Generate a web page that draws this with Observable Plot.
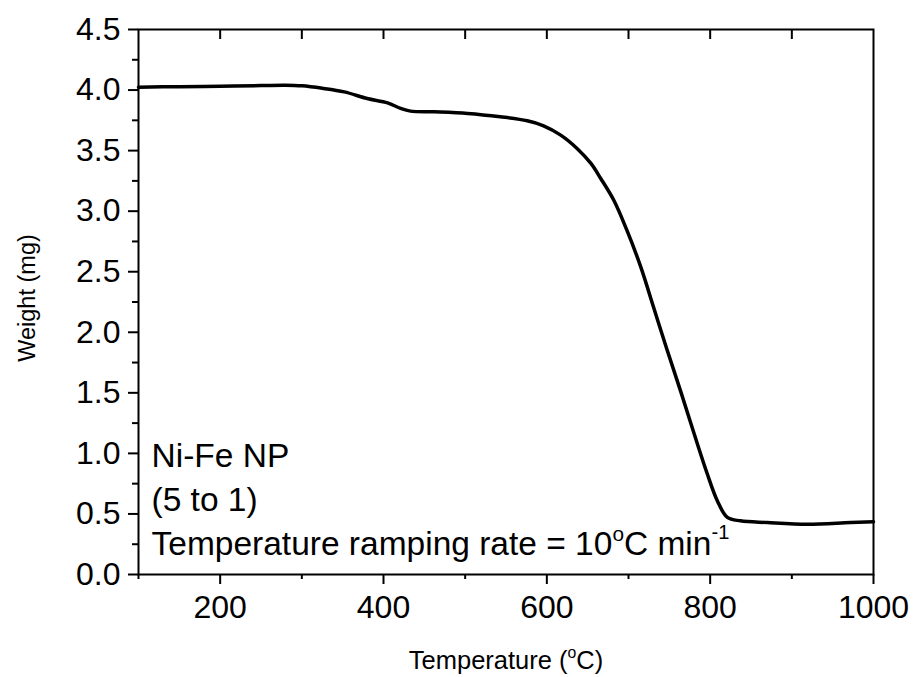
<!DOCTYPE html>
<html><head><meta charset="utf-8">
<script src="https://cdn.jsdelivr.net/npm/d3@7"></script>
<script src="https://cdn.jsdelivr.net/npm/@observablehq/plot@0.6"></script>
<style>html,body{margin:0;padding:0;background:#fff;overflow:hidden} #chart svg{display:block}</style>
</head><body><div id="chart"></div>
<script>
// Data
const temperature = [100,150,200,250,280,300,325,352,380,405,421,433,462,503,543,576,596,617,637,654,666,682,698,715,731,747,764,780,796,809,821,837,870,919,972,1000];
const weight      = [4.024,4.028,4.032,4.037,4.040,4.035,4.015,3.985,3.930,3.894,3.848,3.826,3.820,3.807,3.779,3.746,3.705,3.628,3.518,3.394,3.270,3.090,2.843,2.540,2.200,1.860,1.510,1.170,0.840,0.605,0.472,0.443,0.429,0.415,0.429,0.435];

const xMajorTicks = [200, 400, 600, 800, 1000];
const xMinorTicks = [100, 300, 500, 700, 900];
const xTopTicks   = [200, 300, 400, 500, 600, 700, 800, 900];
const yMajorTicks = [0, 0.5, 1, 1.5, 2, 2.5, 3, 3.5, 4, 4.5];
const yMinorTicks = [0.25, 0.75, 1.25, 1.75, 2.25, 2.75, 3.25, 3.75, 4.25];
const xLabel = "Temperature (°C)";
const yLabel = "Weight (mg)";
const annotationLines = ["Ni-Fe NP", "(5 to 1)", "Temperature ramping rate = 10°C min⁻¹"];

const data = temperature.map((t, i) => ({t, w: weight[i]}));
const blank = () => "";
const W = 914, H = 677, mT = 29, mB = 103;
const yDomain = [0, 4.5];
const innerTickPx = 10;
const yTop = yDomain[1];
const yTickEnd = yTop - innerTickPx * (yDomain[1] - yDomain[0]) / (H - mT - mB);

const chart = Plot.plot({
  width: W, height: H,
  marginLeft: 138, marginRight: 41, marginTop: mT, marginBottom: mB,
  style: {fontFamily: "'Liberation Sans', Arial, sans-serif", fontSize: "32px", color: "#000", background: "#fff"},
  x: {domain: [100, 1000]},
  y: {domain: yDomain},
  marks: [
    Plot.frame({stroke: "#000", fill: "none", strokeWidth: 2}),
    Plot.ruleX(xTopTicks, {x: d => d, y1: yTop, y2: yTickEnd, stroke: "#000", strokeWidth: 2}),
    Plot.axisX({ticks: xMajorTicks, tickSize: 10, tickPadding: 11, tickFormat: d3.format("d"), strokeWidth: 2, label: null, fontSize: 32}),
    Plot.axisX({ticks: xMinorTicks, tickSize: 5, tickFormat: blank, strokeWidth: 2, label: null}),
    Plot.axisY({ticks: yMajorTicks, tickSize: 10, tickPadding: 8, tickFormat: d3.format(".1f"), strokeWidth: 2, label: null, fontSize: 32}),
    Plot.axisY({ticks: yMinorTicks, tickSize: 6, tickFormat: blank, strokeWidth: 2, label: null}),
    Plot.line(data, {x: "t", y: "w", stroke: "#000", strokeWidth: 3.5, curve: "catmull-rom"}),
    Plot.text([annotationLines.join("\n")], {text: d => d, frameAnchor: "bottom-left", textAnchor: "start", lineAnchor: "bottom", lineHeight: 1.313, dx: 13, dy: -20, fontSize: 33.5, fill: "#000"}),
    Plot.text([xLabel], {text: d => d, frameAnchor: "bottom", textAnchor: "middle", lineAnchor: "bottom", dy: 94, fontSize: 25.5, fill: "#000"}),
    Plot.text([yLabel], {text: d => d, frameAnchor: "left", textAnchor: "middle", lineAnchor: "middle", rotate: -90, dx: -111, dy: -4, fontSize: 23.5, fill: "#000"})
  ]
});
document.getElementById("chart").appendChild(chart);

// Render ° and ⁻¹ as true superscripts
const NS = "http://www.w3.org/2000/svg";
d3.select(chart).selectAll("text, tspan").each(function () {
  if (this.children.length) return;
  const s = this.textContent;
  if (!/°|⁻¹/.test(s)) return;
  const base = parseFloat(getComputedStyle(this).fontSize) || 24;
  const parts = s.split(/(°|⁻¹)/).filter(p => p);
  this.textContent = "";
  let raised = 0;
  for (const p of parts) {
    const t = document.createElementNS(NS, "tspan");
    if (p === "°" || p === "⁻¹") {
      const shift = p === "°" ? base * 0.41 : base * 0.47;
      t.textContent = p === "°" ? "o" : "-1";
      t.setAttribute("font-size", (base * (p === "°" ? 0.62 : 0.6)).toFixed(1));
      t.setAttribute("dy", (-shift - raised).toFixed(1));
      raised = -shift;
    } else {
      t.textContent = p;
      if (raised) { t.setAttribute("dy", (-raised).toFixed(1)); raised = 0; }
    }
    this.appendChild(t);
  }
});
</script>
</body></html>
